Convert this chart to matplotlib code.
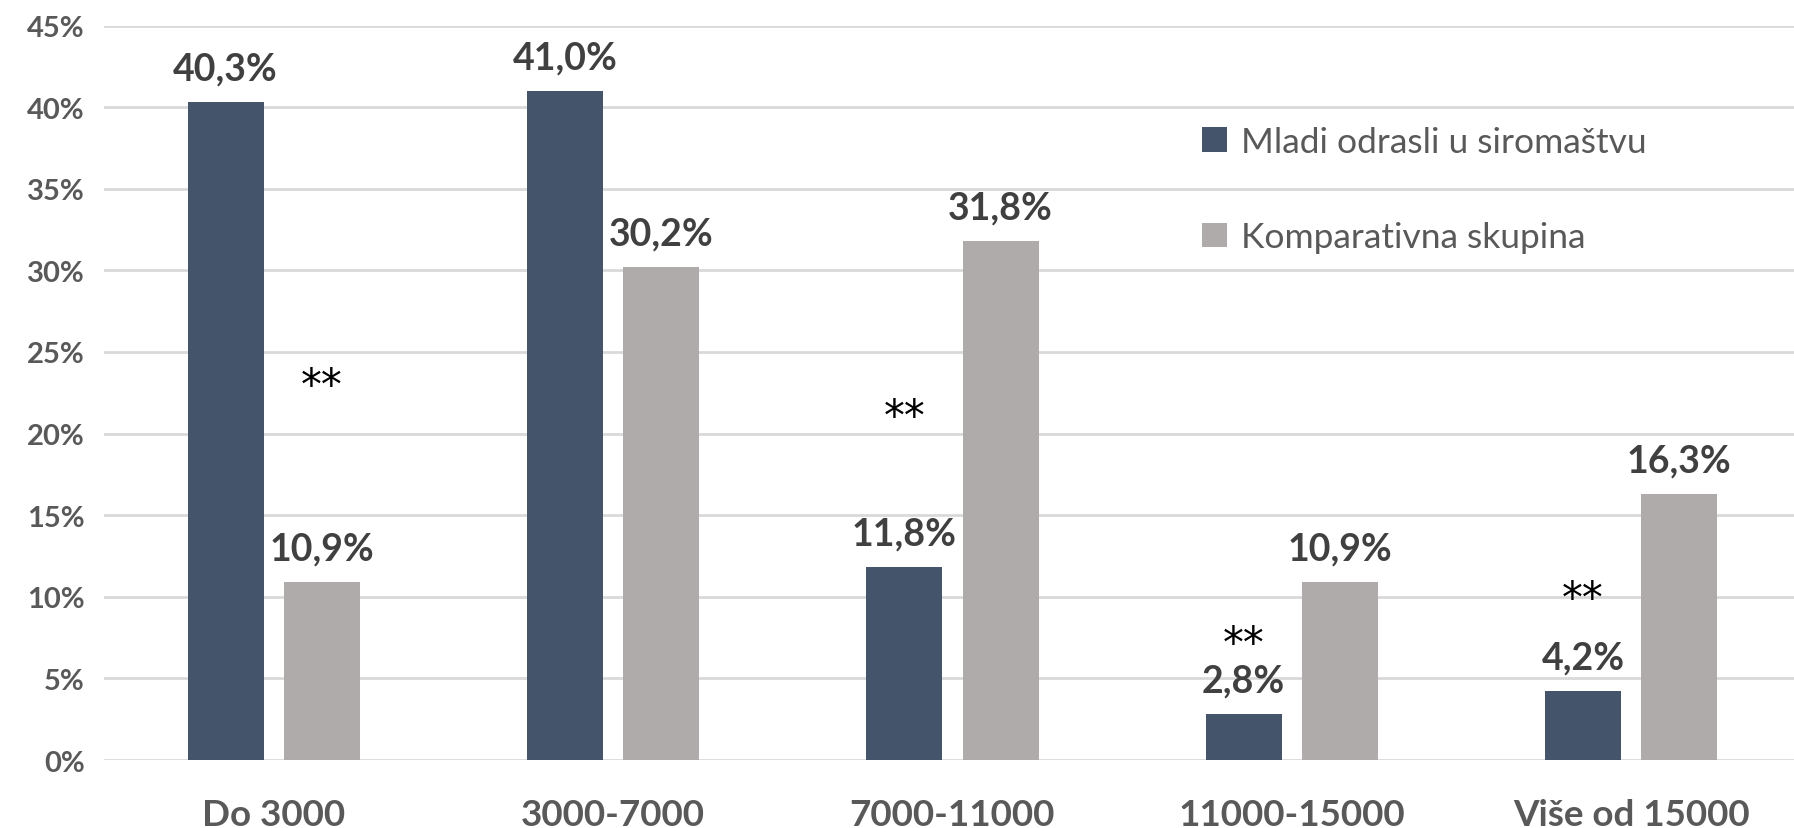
"""Income groups: young adults raised in poverty vs comparison group."""

import matplotlib

matplotlib.use("Agg")
import matplotlib.pyplot as plt
import numpy as np

plt.rcParams["font.family"] = ["Lato", "DejaVu Sans"]

categories = ["Do 3000", "3000-7000", "7000-11000", "11000-15000", "Više od 15000"]
series_names = ["Mladi odrasli u siromaštvu", "Komparativna skupina"]
poverty = [40.3, 41.0, 11.8, 2.8, 4.2]
comparison = [10.9, 30.2, 31.8, 10.9, 16.3]
value_labels_poverty = ["40,3%", "41,0%", "11,8%", "2,8%", "4,2%"]
value_labels_comparison = ["10,9%", "30,2%", "31,8%", "10,9%", "16,3%"]
y_ticks = [0, 5, 10, 15, 20, 25, 30, 35, 40, 45]
# significance marks: (category index, series index, y level in %)
stars = [(0, 1, 22.9), (2, 0, 21.0), (3, 0, 7.1), (4, 0, 9.85)]

DARK = "#44546A"
GRAY = "#AFABAB"
TEXT = "#595959"
LABEL = "#404040"

fig = plt.figure(figsize=(17.94, 8.29), dpi=100)
ax = fig.add_axes([0.058, 0.082, 0.942, 0.886])

x = np.arange(len(categories))
width = 0.224
offset = 0.142
bars1 = ax.bar(x - offset, poverty, width, color=DARK, label=series_names[0], zorder=3)
bars2 = ax.bar(x + offset, comparison, width, color=GRAY, label=series_names[1], zorder=3)

for bars, labels in ((bars1, value_labels_poverty), (bars2, value_labels_comparison)):
    for b, lab in zip(bars, labels):
        ax.annotate(lab, (b.get_x() + b.get_width() / 2, b.get_height()),
                    xytext=(0, 12), textcoords="offset points",
                    ha="center", va="bottom", fontsize=27, fontweight="bold",
                    color=LABEL)

for ci, si, yv in stars:
    xs = x[ci] + (offset if si == 1 else -offset)
    ax.text(xs, yv, "**", ha="center", va="center", fontsize=30,
            family="DejaVu Sans", color="black")

ax.set_xlim(-0.5, 4.48)
ax.set_ylim(0, 45)
ax.set_yticks(y_ticks)
ax.set_yticklabels([f"{t}%" for t in y_ticks], fontsize=21, fontweight="bold", color=TEXT)
ax.set_xticks(x)
ax.set_xticklabels(categories, fontsize=26.5, fontweight="bold", color=TEXT)
ax.tick_params(axis="both", length=0)
ax.tick_params(axis="x", pad=27)
ax.tick_params(axis="y", pad=14)
ax.grid(axis="y", color="#D9D9D9", linewidth=2, zorder=0)
for s in ax.spines.values():
    s.set_visible(False)

leg = ax.legend(loc="upper left", bbox_to_anchor=(0.631, 0.907), frameon=False,
                fontsize=25.5, handlelength=0.7, handleheight=0.7,
                handletextpad=0.4, labelspacing=1.8, labelcolor=TEXT)

fig.savefig("out.png", dpi=100)
